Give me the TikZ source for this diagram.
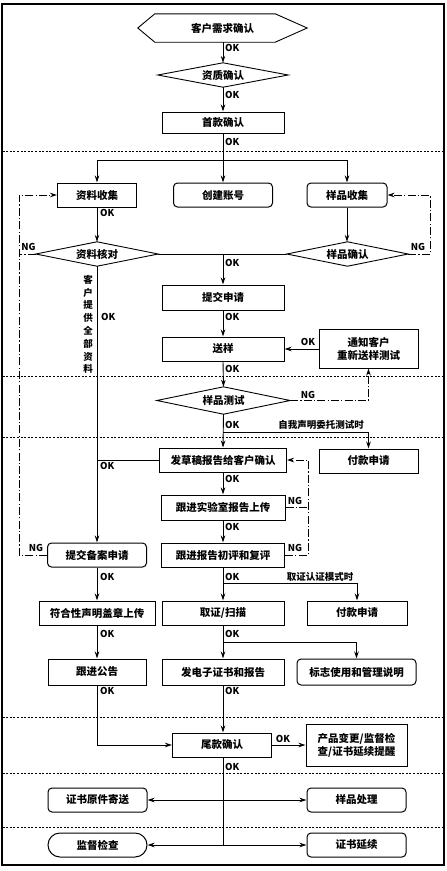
\documentclass[tikz,border=0pt]{standalone}
\usepackage{fontspec}
\setmainfont{Noto Sans CJK SC}
\usetikzlibrary{arrows.meta}
\begin{document}
\begin{tikzpicture}[x=1pt,y=-1pt,
 every node/.style={font=\fontsize{10.5}{13}\selectfont\bfseries, inner sep=0pt, align=center},
 box/.style={draw, line width=1pt},
 rbox/.style={draw, line width=1pt, rounded corners=4pt},
 ln/.style={line width=0.9pt},
 tip/.style={-{Stealth[length=7pt,width=4.5pt]}},
 arr/.style={ln, -{Stealth[length=7pt,width=4.5pt]}},
 darr/.style={ln, {Stealth[length=7pt,width=4.5pt]}-{Stealth[length=7pt,width=4.5pt]}},
 ng/.style={line width=0.8pt, dash pattern=on 8pt off 2.2pt on 1.2pt off 2.2pt},
 sep/.style={line width=0.8pt, dash pattern=on 2pt off 1.6pt},
 lab/.style={font=\fontsize{9.5}{11}\selectfont\bfseries},
 note/.style={font=\fontsize{9.5}{11}\selectfont\bfseries},
]
\useasboundingbox (0,0) rectangle (447,871);
\fill[white] (0,0) rectangle (447,871);
% outer frame
\draw[line width=2pt] (1.5,3.5) rectangle (444,865);
% separators
\foreach \yy in {151,376,437,717,773,827} \draw[sep] (2.5,\yy) -- (443,\yy);

% ---------- nodes ----------
\node[minimum width=169pt, minimum height=28pt] (hx) at (222.5,28) {客户需求确认};
\draw[ln] (hx.west) -- ([xshift=17pt]hx.north west) -- ([xshift=-32pt]hx.north east) -- (hx.east) -- ([xshift=-32pt]hx.south east) -- ([xshift=17pt]hx.south west) -- cycle;

\node[minimum width=130pt, minimum height=24pt] (zz) at (223,75) {资质确认};
\draw[ln] (zz.west) -- (zz.north) -- (zz.east) -- (zz.south) -- cycle;

\node[box, minimum width=122pt, minimum height=21pt] (sk) at (223,122.5) {首款确认};

\node[box, minimum width=79pt, minimum height=24pt] (zlsj) at (97,195) {资料收集};
\node[rbox, minimum width=99pt, minimum height=24pt] (cj) at (223,195) {创建账号};
\node[rbox, minimum width=80pt, minimum height=24pt] (ypsj) at (347,195) {样品收集};

\node[minimum width=122pt, minimum height=24pt] (zlhd) at (97,254) {资料核对};
\draw[ln] (zlhd.west) -- (zlhd.north) -- (zlhd.east) -- (zlhd.south) -- cycle;
\node[minimum width=121pt, minimum height=24pt] (ypqr) at (347.5,254) {样品确认};
\draw[ln] (ypqr.west) -- (ypqr.north) -- (ypqr.east) -- (ypqr.south) -- cycle;

\node[box, minimum width=122pt, minimum height=25pt] (tj) at (223,297.5) {提交申请};
\node[box, minimum width=122pt, minimum height=24pt] (sy) at (223,349) {送样};
\node[box, minimum width=99pt, minimum height=39pt] (tz) at (368.5,348.5) {通知客户\\重新送样测试};

\node[minimum width=133pt, minimum height=27pt] (ypcs) at (223.5,400.5) {样品测试};
\draw[ln] (ypcs.west) -- (ypcs.north) -- (ypcs.east) -- (ypcs.south) -- cycle;

\node[box, minimum width=127pt, minimum height=24pt] (fc) at (223,460) {发草稿报告给客户确认};
\node[box, minimum width=99pt, minimum height=24pt] (fk1) at (368.5,461) {付款申请};
\node[box, minimum width=124pt, minimum height=25pt] (sysc) at (223,507.5) {跟进实验室报告上传};
\node[box, minimum width=123pt, minimum height=24pt] (cp) at (223,555) {跟进报告初评和复评};
\node[rbox, minimum width=99pt, minimum height=24pt] (bbsq) at (97,555) {提交备案申请};

\node[box, minimum width=116pt, minimum height=24pt] (fhx) at (97,613) {符合性声明盖章上传};
\node[box, minimum width=122pt, minimum height=24pt] (qz) at (223,613) {取证/扫描};
\node[box, minimum width=100pt, minimum height=24pt] (fk2) at (357,613) {付款申请};

\node[box, minimum width=98pt, minimum height=26pt] (gg) at (97,672) {跟进公告};
\node[box, minimum width=122pt, minimum height=26pt] (fdz) at (223,672) {发电子证书和报告};
\node[rbox, minimum width=119pt, minimum height=26pt] (bz) at (356.5,672) {标志使用和管理说明};

\node[box, minimum width=99pt, minimum height=24pt] (wk) at (222,745) {尾款确认};
\node[box, minimum width=101pt, minimum height=42pt] (cpbg) at (356.5,745) {产品变更/监督检\\查/证书延续提醒};

\node[rbox, minimum width=99pt, minimum height=24pt] (yj) at (97.5,800) {证书原件寄送};
\node[rbox, minimum width=99pt, minimum height=24pt] (ypcl) at (356.5,800) {样品处理};
\node[draw, line width=1pt, rounded corners=12pt, minimum width=99pt, minimum height=24pt] (jd) at (97.5,845) {监督检查};
\node[rbox, minimum width=99pt, minimum height=24pt] (zsyx) at (356.5,845) {证书延续};

% vertical text
\node[note, font=\fontsize{9.5}{12.8}\selectfont\bfseries] (vt) at (88,324.5) {客\\户\\提\\供\\全\\部\\资\\料};

% ---------- connectors ----------
\draw[arr] (hx.south -| zz.north) -- (zz.north);
\draw[arr] (zz.south) -- (sk.north);
\coordinate (s1) at (223,160);
\draw[ln] (sk.south) -- (s1);
\draw[arr] (s1) -- (cj.north);
\draw[arr] (s1) -| (zlsj.north);
\draw[arr] (s1) -| (ypsj.north);
\draw[arr] (zlsj.south) -- (zlhd.north);
\draw[arr] (ypsj.south) -- (ypsj.south |- ypqr.north);
\draw[ln] (zlhd.east) -- (ypqr.west);
\coordinate (s2) at (223,254);
\draw[arr] (s2) -- (tj.north);
\draw[arr] (zlhd.south) -- (bbsq.north);
\draw[arr] (tj.south) -- (sy.north);
\draw[arr] (tz.west |- sy.east) -- (sy.east);
\draw[arr] (sy.south) -- (ypcs.north);
\draw[ng, tip] (ypcs.east) -| (tz.south);
\draw[arr] (ypcs.south) -- (fc.north);
\coordinate (s3) at (223,432);
\draw[arr] (s3) -| (fk1.north);
\draw[ln] (fc.west) -- (fc.west -| zlhd.south);
\draw[arr] (fc.south) -- (sysc.north);
\draw[arr] (sysc.south) -- (cp.north);
% NG loops
\coordinate (L1) at (19,555);
\coordinate (L2) at (19,195);
\draw[ng, tip] (bbsq.west) -- (L1) -- (L2) -- (zlsj.west);
\draw[ng] (zlhd.west) -- (zlhd.west -| L1);
\coordinate (R1) at (430,254);
\draw[ng, tip] (ypqr.east) -- (R1) |- (ypsj.east);
\coordinate (M1) at (308,555);
\coordinate (M2) at (308,460);
\draw[ng] (sysc.east) -- (sysc.east -| M1);
\draw[ng, tip] (cp.east) -- (M1) -- (M2) -- (fc.east);

\draw[arr] (bbsq.south) -- (fhx.north);
\draw[arr] (cp.south) -- (qz.north);
\coordinate (s4) at (223,583);
\draw[arr] (s4) -| (fk2.north);
\draw[arr] (fhx.south) -- (gg.north);
\draw[arr] (qz.south) -- (fdz.north);
\coordinate (s5) at (223,642);
\draw[arr] (s5) -| (bz.north);
\draw[arr] (gg.south) |- (wk.west);
\draw[arr] (fdz.south) -- (fdz.south |- wk.north);
\draw[arr] (wk.east) -- (cpbg.west);
\coordinate (b2) at (223,845);
\draw[ln] (fdz.south |- wk.south) -- (b2);
\draw[darr] (yj.east) -- (ypcl.west);
\draw[darr] (jd.east) -- (zsyx.west);

% ---------- labels ----------
\node[lab, anchor=west] (k1) at (225,48) {OK};
\node[lab, anchor=west] (k2) at (225,95) {OK};
\node[lab, anchor=west] (k3) at (225,142) {OK};
\node[lab, anchor=west] (k4) at (100,213) {OK};
\node[lab, anchor=west] (k5) at (225,263) {OK};
\node[lab, anchor=west] (k6) at (101,317) {OK};
\node[lab, anchor=west] (k7) at (225,317) {OK};
\node[lab] (k8) at (308,342) {OK};
\node[lab, anchor=west] (k9) at (225,369) {OK};
\node[lab] (n1) at (28.5,247) {NG};
\node[lab] (n2) at (418,247) {NG};
\node[lab] (n3) at (308,395) {NG};
\node[lab, anchor=west] (k10) at (225,425) {OK};
\node[note] (t1) at (321,425) {自我声明委托测试时};
\node[lab, anchor=west] (k11) at (100,466) {OK};
\node[lab, anchor=west] (k12) at (225,479) {OK};
\node[lab, anchor=west] (k13) at (225,527) {OK};
\node[lab] (n4) at (295,501) {NG};
\node[lab] (n5) at (295,548) {NG};
\node[lab] (n6) at (36,548) {NG};
\node[lab, anchor=west] (k14) at (100,577) {OK};
\node[lab, anchor=west] (k15) at (225,577) {OK};
\node[note] (t2) at (320,577) {取证认证模式时};
\node[lab, anchor=west] (k16) at (100,634) {OK};
\node[lab, anchor=west] (k17) at (225,634) {OK};
\node[lab, anchor=west] (k18) at (100,691) {OK};
\node[lab, anchor=west] (k19) at (225,691) {OK};
\node[lab] (k20) at (283,739) {OK};
\node[lab, anchor=west] (k21) at (225,767) {OK};
\end{tikzpicture}
\end{document}
